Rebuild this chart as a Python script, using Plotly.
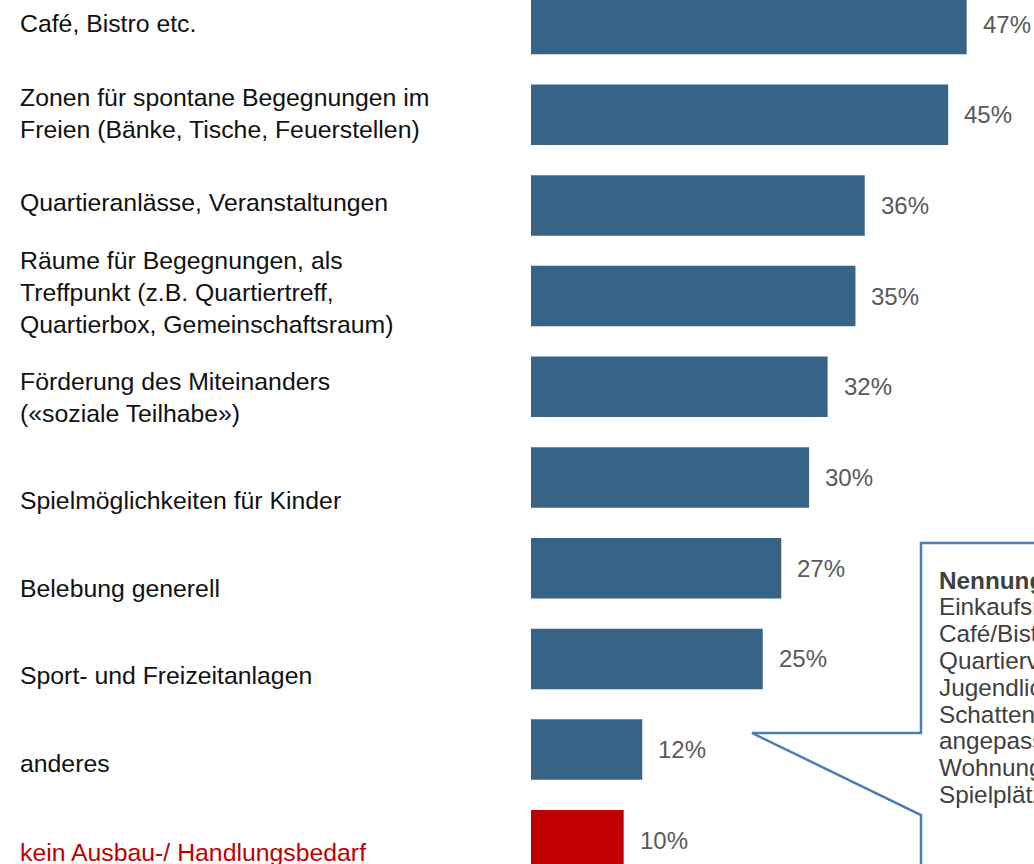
import plotly.graph_objects as go

# Daten
categories = [
    "Café, Bistro etc.",
    "Zonen für spontane Begegnungen im<br>Freien (Bänke, Tische, Feuerstellen)",
    "Quartieranlässe, Veranstaltungen",
    "Räume für Begegnungen, als<br>Treffpunkt (z.B. Quartiertreff,<br>Quartierbox, Gemeinschaftsraum)",
    "Förderung des Miteinanders<br>(«soziale Teilhabe»)",
    "Spielmöglichkeiten für Kinder",
    "Belebung generell",
    "Sport- und Freizeitanlagen",
    "anderes",
    "kein Ausbau-/ Handlungsbedarf",
]
values = [47, 45, 36, 35, 32, 30, 27, 25, 12, 10]
value_labels = [f"{v}%" for v in values]
highlight = "kein Ausbau-/ Handlungsbedarf"

callout_title = "Nennungen «anderes»:"
callout_lines = [
    "Einkaufsmöglichkeiten,",
    "Café/Bistro, Begegnungszone,",
    "Quartierverein, Angebote für",
    "Jugendliche, Sitzgelegenheiten,",
    "Schattenplätze, altersgerecht",
    "angepasste Wohnungen,",
    "Wohnungen für Familien,",
    "Spielplätze",
]

# Layout-Konstanten (Pixel)
W, H = 1034, 864
L = 531
FONT = "Liberation Sans, Arial, sans-serif"
BLUE = "#376386"
RED = "#c00000"
EDGE = "#4a7fb5"
# vertikale Feinkorrektur der Beschriftungen gegenüber Balkenmitte
label_nudge = [-1, -1, -3, -4, 11, 23, 20, 17, 14, 12]


def px(x):
    return (x - L) / (W - L)


def py(y):
    return 1 - y / H


colors = [RED if c == highlight else BLUE for c in categories]

fig = go.Figure()
fig.add_trace(
    go.Bar(
        x=values,
        y=categories,
        orientation="h",
        width=0.667,
        marker=dict(color=colors, line=dict(width=0)),
        hoverinfo="skip",
        showlegend=False,
    )
)

annotations = []
for cat, v, lab, nudge in zip(categories, values, value_labels, label_nudge):
    annotations.append(dict(
        x=px(18), xref="paper", y=cat, yref="y",
        text=cat, showarrow=False, xanchor="left", yanchor="middle", align="left",
        yshift=-nudge,
        font=dict(family=FONT, size=24.8, color=RED if cat == highlight else "#111111"),
    ))
    annotations.append(dict(
        x=v, xref="x", y=cat, yref="y",
        text=lab, showarrow=False, xanchor="left", yanchor="middle",
        xshift=14,
        font=dict(family=FONT, size=24, color="#595959"),
    ))

# Sprechblase
for i, line in enumerate([f"<b>{callout_title}</b>"] + callout_lines):
    annotations.append(dict(
        x=px(937), xref="paper", y=py(580 + i * 26.8), yref="paper",
        text=line, showarrow=False, xanchor="left", yanchor="middle", align="left",
        font=dict(family=FONT, size=24.3, color="#404040"),
    ))

bubble = [(921, 543), (1060, 543), (1060, 900), (921, 900), (921, 815), (752, 733), (921, 733)]
path = "M " + " L ".join(f"{px(a):.5f},{py(b):.5f}" for a, b in bubble) + " Z"

fig.update_layout(
    width=W,
    height=H,
    margin=dict(l=L, r=0, t=0, b=0, pad=0),
    plot_bgcolor="white",
    paper_bgcolor="white",
    annotations=annotations,
    shapes=[dict(type="path", path=path, xref="paper", yref="paper",
                 line=dict(color=EDGE, width=2.5), fillcolor="white", layer="above")],
    bargap=0.33,
)
fig.update_xaxes(range=[0, (W - L) / 9.27], visible=False, fixedrange=True)
fig.update_yaxes(
    type="category",
    range=[(H - 24) / 90.7, -24 / 90.7],
    showticklabels=False, showgrid=False, zeroline=False, showline=False, ticks="",
)

fig.write_html(
    "out.html",
    config={"displayModeBar": False},
    post_script="document.body.style.margin='0';document.body.style.overflow='hidden';",
)
